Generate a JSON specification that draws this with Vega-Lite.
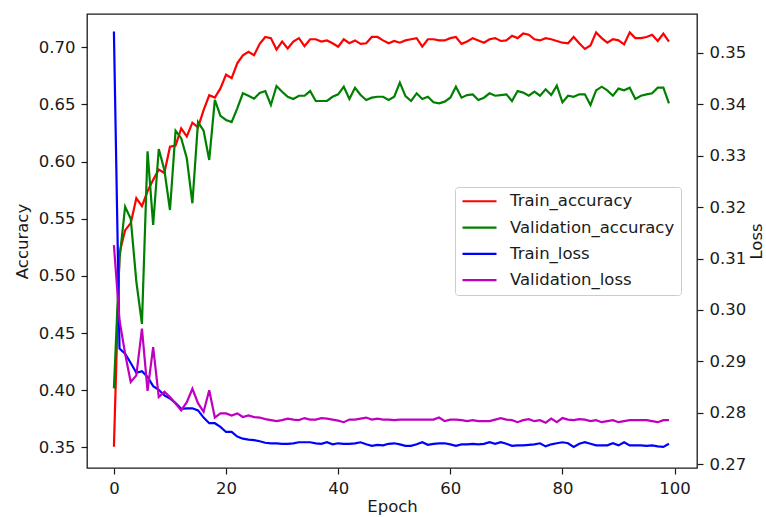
{
  "$schema": "https://vega.github.io/schema/vega-lite/v6.json",
  "width": 610,
  "height": 454,
  "autosize": {"type": "none"},
  "padding": {"left": 87, "top": 14, "right": 69, "bottom": 49},
  "background": "white",
  "config": {
    "font": "DejaVu Sans",
    "view": {"stroke": "#1a1a1a", "strokeWidth": 1.3},
    "axis": {
      "domain": false,
      "grid": false,
      "ticks": true,
      "tickColor": "#1a1a1a",
      "tickSize": 6,
      "tickWidth": 1.2,
      "labelFontSize": 16.5,
      "labelColor": "#1a1a1a",
      "labelPadding": 6,
      "titleFontSize": 16.5,
      "titleFontWeight": "normal",
      "titleColor": "#1a1a1a"
    },
    "legend": {
      "orient": "none",
      "legendX": 368,
      "legendY": 173,
      "symbolType": "stroke",
      "symbolSize": 1156,
      "symbolStrokeWidth": 2.2,
      "labelFontSize": 16.5,
      "labelColor": "#1a1a1a",
      "labelOffset": 12,
      "labelLimit": 400,
      "clipHeight": 16.5,
      "rowPadding": 9.3,
      "padding": 6,
      "strokeColor": "#cccccc",
      "fillColor": "rgba(255,255,255,0.8)",
      "cornerRadius": 3
    }
  },
  "data": {
    "values": [
      {"e":0,"Train_accuracy":0.3505,"Validation_accuracy":0.4016,"Train_loss":0.3541,"Validation_loss":0.3126},
      {"e":1,"Train_accuracy":0.520,"Validation_accuracy":0.515,"Train_loss":0.2925,"Validation_loss":0.2980},
      {"e":2,"Train_accuracy":0.540,"Validation_accuracy":0.5605,"Train_loss":0.2915,"Validation_loss":0.2915},
      {"e":3,"Train_accuracy":0.546,"Validation_accuracy":0.550,"Train_loss":0.2897,"Validation_loss":0.2860},
      {"e":4,"Train_accuracy":0.568,"Validation_accuracy":0.495,"Train_loss":0.2878,"Validation_loss":0.2873},
      {"e":5,"Train_accuracy":0.561,"Validation_accuracy":0.458,"Train_loss":0.2881,"Validation_loss":0.2964},
      {"e":6,"Train_accuracy":0.574,"Validation_accuracy":0.609,"Train_loss":0.2870,"Validation_loss":0.2843},
      {"e":7,"Train_accuracy":0.584,"Validation_accuracy":0.5445,"Train_loss":0.2852,"Validation_loss":0.2928},
      {"e":8,"Train_accuracy":0.593,"Validation_accuracy":0.611,"Train_loss":0.2845,"Validation_loss":0.2831},
      {"e":9,"Train_accuracy":0.590,"Validation_accuracy":0.5926,"Train_loss":0.2834,"Validation_loss":0.2841},
      {"e":10,"Train_accuracy":0.613,"Validation_accuracy":0.5576,"Train_loss":0.2828,"Validation_loss":0.2831},
      {"e":11,"Train_accuracy":0.614,"Validation_accuracy":0.627,"Train_loss":0.2819,"Validation_loss":0.2818},
      {"e":12,"Train_accuracy":0.629,"Validation_accuracy":0.6205,"Train_loss":0.2808,"Validation_loss":0.2805},
      {"e":13,"Train_accuracy":0.622,"Validation_accuracy":0.6029,"Train_loss":0.2809,"Validation_loss":0.2821},
      {"e":14,"Train_accuracy":0.634,"Validation_accuracy":0.5635,"Train_loss":0.2809,"Validation_loss":0.2847},
      {"e":15,"Train_accuracy":0.630,"Validation_accuracy":0.6345,"Train_loss":0.2805,"Validation_loss":0.2819},
      {"e":16,"Train_accuracy":0.645,"Validation_accuracy":0.627,"Train_loss":0.2791,"Validation_loss":0.2802},
      {"e":17,"Train_accuracy":0.658,"Validation_accuracy":0.6014,"Train_loss":0.2780,"Validation_loss":0.2844},
      {"e":18,"Train_accuracy":0.656,"Validation_accuracy":0.6539,"Train_loss":0.2780,"Validation_loss":0.2791},
      {"e":19,"Train_accuracy":0.664,"Validation_accuracy":0.640,"Train_loss":0.2773,"Validation_loss":0.2799},
      {"e":20,"Train_accuracy":0.676,"Validation_accuracy":0.6364,"Train_loss":0.2763,"Validation_loss":0.2799},
      {"e":21,"Train_accuracy":0.673,"Validation_accuracy":0.6345,"Train_loss":0.2763,"Validation_loss":0.2795},
      {"e":22,"Train_accuracy":0.686,"Validation_accuracy":0.6466,"Train_loss":0.2754,"Validation_loss":0.2799},
      {"e":23,"Train_accuracy":0.693,"Validation_accuracy":0.6597,"Train_loss":0.2750,"Validation_loss":0.2792},
      {"e":24,"Train_accuracy":0.696,"Validation_accuracy":0.6575,"Train_loss":0.2748,"Validation_loss":0.2795},
      {"e":25,"Train_accuracy":0.693,"Validation_accuracy":0.655,"Train_loss":0.2747,"Validation_loss":0.2792},
      {"e":26,"Train_accuracy":0.703,"Validation_accuracy":0.660,"Train_loss":0.2745,"Validation_loss":0.2791},
      {"e":27,"Train_accuracy":0.709,"Validation_accuracy":0.6617,"Train_loss":0.2742,"Validation_loss":0.2788},
      {"e":28,"Train_accuracy":0.708,"Validation_accuracy":0.6495,"Train_loss":0.2741,"Validation_loss":0.2786},
      {"e":29,"Train_accuracy":0.698,"Validation_accuracy":0.6661,"Train_loss":0.2741,"Validation_loss":0.2784},
      {"e":30,"Train_accuracy":0.705,"Validation_accuracy":0.6611,"Train_loss":0.2740,"Validation_loss":0.2786},
      {"e":31,"Train_accuracy":0.699,"Validation_accuracy":0.6567,"Train_loss":0.2740,"Validation_loss":0.2789},
      {"e":32,"Train_accuracy":0.705,"Validation_accuracy":0.6547,"Train_loss":0.2741,"Validation_loss":0.2787},
      {"e":33,"Train_accuracy":0.708,"Validation_accuracy":0.6576,"Train_loss":0.2743,"Validation_loss":0.2786},
      {"e":34,"Train_accuracy":0.701,"Validation_accuracy":0.6576,"Train_loss":0.2743,"Validation_loss":0.2790},
      {"e":35,"Train_accuracy":0.707,"Validation_accuracy":0.6617,"Train_loss":0.2743,"Validation_loss":0.2787},
      {"e":36,"Train_accuracy":0.707,"Validation_accuracy":0.6530,"Train_loss":0.2741,"Validation_loss":0.2787},
      {"e":37,"Train_accuracy":0.705,"Validation_accuracy":0.6530,"Train_loss":0.2740,"Validation_loss":0.2790},
      {"e":38,"Train_accuracy":0.706,"Validation_accuracy":0.6530,"Train_loss":0.2743,"Validation_loss":0.2789},
      {"e":39,"Train_accuracy":0.7035,"Validation_accuracy":0.6567,"Train_loss":0.2739,"Validation_loss":0.2787},
      {"e":40,"Train_accuracy":0.7005,"Validation_accuracy":0.6588,"Train_loss":0.2741,"Validation_loss":0.2785},
      {"e":41,"Train_accuracy":0.707,"Validation_accuracy":0.6655,"Train_loss":0.2740,"Validation_loss":0.2782},
      {"e":42,"Train_accuracy":0.7035,"Validation_accuracy":0.6547,"Train_loss":0.2740,"Validation_loss":0.2787},
      {"e":43,"Train_accuracy":0.706,"Validation_accuracy":0.6646,"Train_loss":0.2741,"Validation_loss":0.2787},
      {"e":44,"Train_accuracy":0.703,"Validation_accuracy":0.6582,"Train_loss":0.2743,"Validation_loss":0.2789},
      {"e":45,"Train_accuracy":0.7035,"Validation_accuracy":0.6539,"Train_loss":0.2739,"Validation_loss":0.2791},
      {"e":46,"Train_accuracy":0.709,"Validation_accuracy":0.6559,"Train_loss":0.2736,"Validation_loss":0.2787},
      {"e":47,"Train_accuracy":0.709,"Validation_accuracy":0.6567,"Train_loss":0.2738,"Validation_loss":0.2789},
      {"e":48,"Train_accuracy":0.706,"Validation_accuracy":0.6567,"Train_loss":0.2737,"Validation_loss":0.2787},
      {"e":49,"Train_accuracy":0.7035,"Validation_accuracy":0.6539,"Train_loss":0.2740,"Validation_loss":0.2787},
      {"e":50,"Train_accuracy":0.7055,"Validation_accuracy":0.6567,"Train_loss":0.2741,"Validation_loss":0.2786},
      {"e":51,"Train_accuracy":0.704,"Validation_accuracy":0.6690,"Train_loss":0.2739,"Validation_loss":0.2787},
      {"e":52,"Train_accuracy":0.706,"Validation_accuracy":0.6573,"Train_loss":0.2736,"Validation_loss":0.2787},
      {"e":53,"Train_accuracy":0.707,"Validation_accuracy":0.6530,"Train_loss":0.2736,"Validation_loss":0.2787},
      {"e":54,"Train_accuracy":0.708,"Validation_accuracy":0.6597,"Train_loss":0.2739,"Validation_loss":0.2787},
      {"e":55,"Train_accuracy":0.7005,"Validation_accuracy":0.6547,"Train_loss":0.2743,"Validation_loss":0.2787},
      {"e":56,"Train_accuracy":0.707,"Validation_accuracy":0.6567,"Train_loss":0.2738,"Validation_loss":0.2787},
      {"e":57,"Train_accuracy":0.707,"Validation_accuracy":0.6518,"Train_loss":0.2740,"Validation_loss":0.2787},
      {"e":58,"Train_accuracy":0.706,"Validation_accuracy":0.6509,"Train_loss":0.2741,"Validation_loss":0.2791},
      {"e":59,"Train_accuracy":0.706,"Validation_accuracy":0.6524,"Train_loss":0.2741,"Validation_loss":0.2784},
      {"e":60,"Train_accuracy":0.708,"Validation_accuracy":0.6559,"Train_loss":0.2739,"Validation_loss":0.2787},
      {"e":61,"Train_accuracy":0.709,"Validation_accuracy":0.6655,"Train_loss":0.2736,"Validation_loss":0.2787},
      {"e":62,"Train_accuracy":0.703,"Validation_accuracy":0.6559,"Train_loss":0.2739,"Validation_loss":0.2786},
      {"e":63,"Train_accuracy":0.705,"Validation_accuracy":0.6582,"Train_loss":0.2739,"Validation_loss":0.2784},
      {"e":64,"Train_accuracy":0.708,"Validation_accuracy":0.6588,"Train_loss":0.2740,"Validation_loss":0.2786},
      {"e":65,"Train_accuracy":0.706,"Validation_accuracy":0.6539,"Train_loss":0.2739,"Validation_loss":0.2784},
      {"e":66,"Train_accuracy":0.704,"Validation_accuracy":0.6559,"Train_loss":0.2740,"Validation_loss":0.2784},
      {"e":67,"Train_accuracy":0.707,"Validation_accuracy":0.6597,"Train_loss":0.2743,"Validation_loss":0.2784},
      {"e":68,"Train_accuracy":0.708,"Validation_accuracy":0.6576,"Train_loss":0.2740,"Validation_loss":0.2787},
      {"e":69,"Train_accuracy":0.7055,"Validation_accuracy":0.6582,"Train_loss":0.2743,"Validation_loss":0.2790},
      {"e":70,"Train_accuracy":0.706,"Validation_accuracy":0.6588,"Train_loss":0.2740,"Validation_loss":0.2787},
      {"e":71,"Train_accuracy":0.710,"Validation_accuracy":0.6530,"Train_loss":0.2736,"Validation_loss":0.2786},
      {"e":72,"Train_accuracy":0.708,"Validation_accuracy":0.6617,"Train_loss":0.2737,"Validation_loss":0.2782},
      {"e":73,"Train_accuracy":0.712,"Validation_accuracy":0.6603,"Train_loss":0.2737,"Validation_loss":0.2786},
      {"e":74,"Train_accuracy":0.711,"Validation_accuracy":0.6576,"Train_loss":0.2738,"Validation_loss":0.2788},
      {"e":75,"Train_accuracy":0.707,"Validation_accuracy":0.6611,"Train_loss":0.2739,"Validation_loss":0.2784},
      {"e":76,"Train_accuracy":0.706,"Validation_accuracy":0.6576,"Train_loss":0.2741,"Validation_loss":0.2786},
      {"e":77,"Train_accuracy":0.708,"Validation_accuracy":0.6632,"Train_loss":0.2735,"Validation_loss":0.2781},
      {"e":78,"Train_accuracy":0.707,"Validation_accuracy":0.6582,"Train_loss":0.2739,"Validation_loss":0.2789},
      {"e":79,"Train_accuracy":0.7055,"Validation_accuracy":0.6664,"Train_loss":0.2741,"Validation_loss":0.2782},
      {"e":80,"Train_accuracy":0.704,"Validation_accuracy":0.6518,"Train_loss":0.2743,"Validation_loss":0.2790},
      {"e":81,"Train_accuracy":0.7035,"Validation_accuracy":0.6576,"Train_loss":0.2741,"Validation_loss":0.2787},
      {"e":82,"Train_accuracy":0.709,"Validation_accuracy":0.6567,"Train_loss":0.2734,"Validation_loss":0.2786},
      {"e":83,"Train_accuracy":0.7035,"Validation_accuracy":0.6588,"Train_loss":0.2740,"Validation_loss":0.2788},
      {"e":84,"Train_accuracy":0.6985,"Validation_accuracy":0.6588,"Train_loss":0.2743,"Validation_loss":0.2787},
      {"e":85,"Train_accuracy":0.7015,"Validation_accuracy":0.6495,"Train_loss":0.2740,"Validation_loss":0.2784},
      {"e":86,"Train_accuracy":0.713,"Validation_accuracy":0.6623,"Train_loss":0.2737,"Validation_loss":0.2786},
      {"e":87,"Train_accuracy":0.708,"Validation_accuracy":0.6655,"Train_loss":0.2737,"Validation_loss":0.2782},
      {"e":88,"Train_accuracy":0.704,"Validation_accuracy":0.6623,"Train_loss":0.2737,"Validation_loss":0.2784},
      {"e":89,"Train_accuracy":0.707,"Validation_accuracy":0.6576,"Train_loss":0.2741,"Validation_loss":0.2786},
      {"e":90,"Train_accuracy":0.706,"Validation_accuracy":0.6638,"Train_loss":0.2737,"Validation_loss":0.2782},
      {"e":91,"Train_accuracy":0.7025,"Validation_accuracy":0.6623,"Train_loss":0.2743,"Validation_loss":0.2784},
      {"e":92,"Train_accuracy":0.713,"Validation_accuracy":0.6646,"Train_loss":0.2737,"Validation_loss":0.2786},
      {"e":93,"Train_accuracy":0.708,"Validation_accuracy":0.6547,"Train_loss":0.2737,"Validation_loss":0.2786},
      {"e":94,"Train_accuracy":0.708,"Validation_accuracy":0.6576,"Train_loss":0.2737,"Validation_loss":0.2786},
      {"e":95,"Train_accuracy":0.709,"Validation_accuracy":0.6588,"Train_loss":0.2736,"Validation_loss":0.2786},
      {"e":96,"Train_accuracy":0.711,"Validation_accuracy":0.6597,"Train_loss":0.2737,"Validation_loss":0.2784},
      {"e":97,"Train_accuracy":0.7055,"Validation_accuracy":0.6646,"Train_loss":0.2735,"Validation_loss":0.2782},
      {"e":98,"Train_accuracy":0.712,"Validation_accuracy":0.6646,"Train_loss":0.2734,"Validation_loss":0.2786},
      {"e":99,"Train_accuracy":0.705,"Validation_accuracy":0.6509,"Train_loss":0.2740,"Validation_loss":0.2786}
    ]
  },
  "transform": [
    {"fold": ["Train_accuracy", "Validation_accuracy", "Train_loss", "Validation_loss"], "as": ["series", "value"]}
  ],
  "encoding": {
    "x": {
      "field": "e",
      "type": "quantitative",
      "title": "Epoch",
      "scale": {"domain": [-4.8, 104], "nice": false, "zero": false},
      "axis": {"values": [0, 20, 40, 60, 80, 100], "format": "d", "titlePadding": 2}
    },
    "color": {
      "field": "series",
      "type": "nominal",
      "sort": null,
      "scale": {
        "domain": ["Train_accuracy", "Validation_accuracy", "Train_loss", "Validation_loss"],
        "range": ["#ff0000", "#008000", "#0000ff", "#bf00bf"]
      },
      "legend": {"title": null}
    }
  },
  "layer": [
    {
      "transform": [{"filter": "indexof(datum.series, 'accuracy') >= 0"}],
      "mark": {"type": "line", "strokeWidth": 2.2, "clip": true},
      "encoding": {
        "y": {
          "field": "value",
          "type": "quantitative",
          "title": "Accuracy",
          "scale": {"domain": [0.3319, 0.7291], "nice": false, "zero": false},
          "axis": {"orient": "left", "values": [0.35, 0.4, 0.45, 0.5, 0.55, 0.6, 0.65, 0.7], "format": ".2f", "titlePadding": 8}
        }
      }
    },
    {
      "transform": [{"filter": "indexof(datum.series, 'loss') >= 0"}],
      "mark": {"type": "line", "strokeWidth": 2.2, "clip": true},
      "encoding": {
        "y": {
          "field": "value",
          "type": "quantitative",
          "title": "Loss",
          "scale": {"domain": [0.2693, 0.3575], "nice": false, "zero": false},
          "axis": {"orient": "right", "values": [0.27, 0.28, 0.29, 0.3, 0.31, 0.32, 0.33, 0.34, 0.35], "format": ".2f", "titlePadding": 3, "titleAngle": 270, "titleBaseline": "top"}
        }
      }
    }
  ],
  "resolve": {"scale": {"y": "independent"}, "axis": {"y": "independent"}}
}
